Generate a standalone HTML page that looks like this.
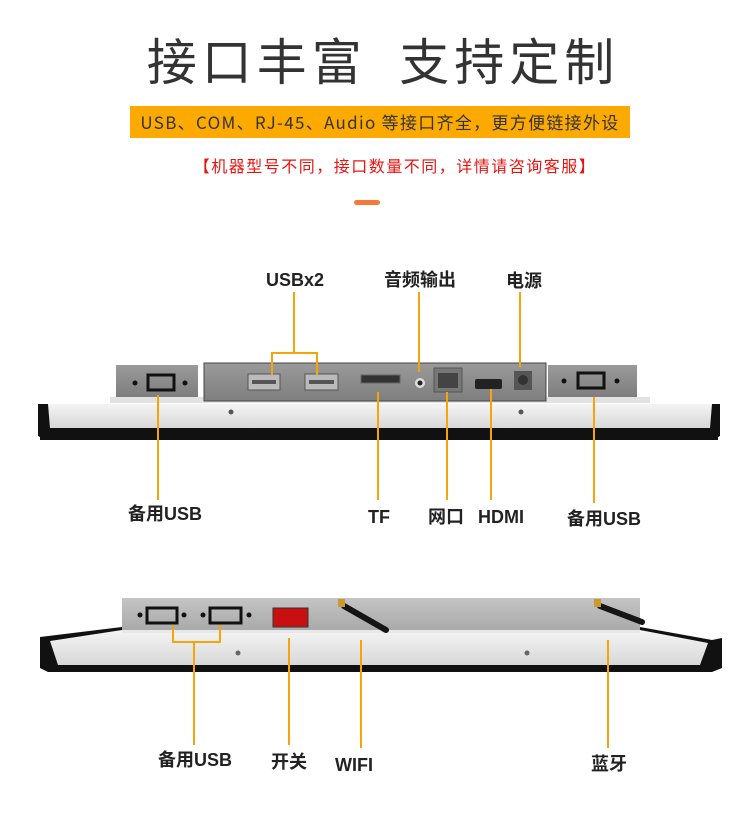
<!DOCTYPE html>
<html><head><meta charset="utf-8"><style>
html,body{margin:0;padding:0;background:#fff;width:750px;height:820px;overflow:hidden}
svg{display:block}
</style></head><body>
<svg width="750" height="820" viewBox="0 0 750 820" xmlns="http://www.w3.org/2000/svg" font-family="Liberation Sans, Noto Sans CJK SC, sans-serif">
<defs>
<linearGradient id="bz" x1="0" y1="0" x2="0" y2="1"><stop offset="0" stop-color="#f4f4f4"/><stop offset="1" stop-color="#d8d8d8"/></linearGradient>
<linearGradient id="pn" x1="0" y1="0" x2="0" y2="1"><stop offset="0" stop-color="#9a9a9a"/><stop offset="1" stop-color="#7e7e7e"/></linearGradient>
<linearGradient id="pn2" x1="0" y1="0" x2="0" y2="1"><stop offset="0" stop-color="#c4c4c4"/><stop offset="1" stop-color="#a8a8a8"/></linearGradient>
</defs>
<!-- header -->
<text x="383" y="80" text-anchor="middle" font-size="50" fill="#333" font-family="Noto Sans CJK SC, sans-serif" letter-spacing="5">接口丰富 &#160;支持定制</text>
<rect x="130" y="106" width="500" height="32" fill="#fcaa00"/>
<text x="380" y="129" text-anchor="middle" font-size="17" fill="#333" letter-spacing="1.3" font-family="Noto Sans CJK SC, sans-serif">USB、COM、RJ-45、Audio 等接口齐全，更方便链接外设</text>
<text x="395" y="172" text-anchor="middle" font-size="16" fill="#e8130f" letter-spacing="1.5" font-family="Noto Sans CJK SC, sans-serif">【机器型号不同，接口数量不同，详情请咨询客服】</text>
<rect x="354" y="200" width="26" height="5" rx="2.5" fill="#f57a3a"/>

<!-- device 1 -->
<path d="M38 404 L720 404 L720 436 L712 440 L46 440 L38 436 Z" fill="#111"/>
<path d="M48 404 L712 404 L710 428 L50 428 Z" fill="url(#bz)"/>
<rect x="40" y="428" width="678" height="12" fill="#111"/>
<rect x="110" y="397" width="540" height="6" fill="#e2e2e2"/>
<rect x="116" y="365" width="82" height="32" fill="url(#pn)"/>
<rect x="548" y="365" width="89" height="32" fill="url(#pn)"/>
<rect x="204" y="363" width="342" height="38" fill="url(#pn)" stroke="#444" stroke-width="1"/>
<circle cx="135" cy="383" r="2.5" fill="#111"/><circle cx="185" cy="383" r="2.5" fill="#111"/>
<rect x="148" y="375" width="26" height="15" fill="none" stroke="#111" stroke-width="3"/>
<circle cx="564" cy="381" r="2.5" fill="#111"/><circle cx="617" cy="381" r="2.5" fill="#111"/>
<rect x="578" y="373" width="26" height="15" fill="none" stroke="#111" stroke-width="3"/>
<circle cx="231" cy="412" r="2.5" fill="#555"/><circle cx="521" cy="412" r="2.5" fill="#555"/>
<rect x="248" y="374" width="32" height="16" fill="#bbb" stroke="#555"/><rect x="252" y="380" width="24" height="4" fill="#555"/>
<rect x="305" y="374" width="33" height="16" fill="#bbb" stroke="#555"/><rect x="309" y="380" width="25" height="4" fill="#555"/>
<rect x="361" y="375" width="39" height="8" fill="#333" stroke="#666"/>
<circle cx="420" cy="383" r="5" fill="#ddd"/><circle cx="420" cy="383" r="2.5" fill="#222"/>
<rect x="434" y="368" width="28" height="24" fill="#777" stroke="#555"/><rect x="438" y="373" width="20" height="15" fill="#444"/>
<rect x="475" y="379" width="27" height="10" rx="2" fill="#222"/>
<rect x="514" y="371" width="18" height="19" fill="#555"/><circle cx="523" cy="380" r="5" fill="#333"/>
<!-- leaders 1 -->
<g stroke="#f5a40c" stroke-width="2" fill="none">
<path d="M294 292 V353 M272 375 V353 H317 V375"/>
<path d="M419 292 V372"/>
<path d="M520 292 V367"/>
<path d="M158 395 V500"/>
<path d="M378 392 V500"/>
<path d="M447 392 V500"/>
<path d="M491 389 V500"/>
<path d="M594 397 V503"/>
</g>
<g font-size="18" font-weight="bold" fill="#222" text-anchor="middle" font-family="Liberation Sans, Noto Sans CJK SC, sans-serif">
<text x="295" y="286">USBx2</text>
<text x="420" y="286">音频输出</text>
<text x="524" y="287">电源</text>
<text x="165" y="520">备用USB</text>
<text x="379" y="523">TF</text>
<text x="446" y="523">网口</text>
<text x="501" y="523">HDMI</text>
<text x="604" y="525">备用USB</text>
</g>

<!-- device 2 -->
<path d="M40 637 L122 627 L640 627 L712 640 L722 638 L722 668 L712 672 L48 672 L40 668 Z" fill="#111"/>
<path d="M50 641 L122 630 L640 630 L708 643 L700 665 L58 665 Z" fill="url(#bz)"/>
<rect x="122" y="598" width="518" height="34" fill="url(#pn2)"/>
<rect x="122" y="630" width="518" height="3" fill="#e8e8e8"/>
<circle cx="140" cy="615" r="2.5" fill="#111"/><circle cx="184" cy="615" r="2.5" fill="#111"/>
<rect x="147" y="608" width="30" height="15" fill="none" stroke="#111" stroke-width="3"/>
<circle cx="203" cy="615" r="2.5" fill="#111"/><circle cx="249" cy="615" r="2.5" fill="#111"/>
<rect x="210" y="608" width="31" height="15" fill="none" stroke="#111" stroke-width="3"/>
<rect x="273" y="608" width="35" height="19" fill="#c81010" stroke="#333"/>
<circle cx="238" cy="653" r="2.5" fill="#666"/><circle cx="527" cy="653" r="2.5" fill="#666"/>
<line x1="344" y1="606" x2="386" y2="630" stroke="#151515" stroke-width="6" stroke-linecap="round"/>
<rect x="338" y="599" width="7" height="8" fill="#c99a2e"/>
<line x1="600" y1="606" x2="642" y2="622" stroke="#151515" stroke-width="6" stroke-linecap="round"/>
<rect x="594" y="599" width="7" height="8" fill="#c99a2e"/>
<g stroke="#f5a40c" stroke-width="2" fill="none">
<path d="M173 625 V642 H220 V625 M194 642 V745"/>
<path d="M289 638 V745"/>
<path d="M361 640 V748"/>
<path d="M608 640 V748"/>
</g>
<g font-size="18" font-weight="bold" fill="#222" text-anchor="middle" font-family="Liberation Sans, Noto Sans CJK SC, sans-serif">
<text x="195" y="766">备用USB</text>
<text x="289" y="768">开关</text>
<text x="354" y="771">WIFI</text>
<text x="609" y="770">蓝牙</text>
</g>
</svg>
</body></html>
